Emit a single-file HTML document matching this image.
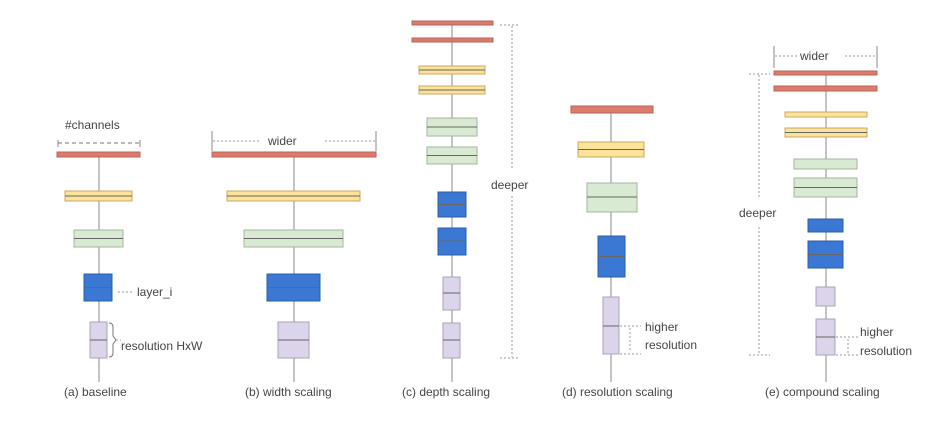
<!DOCTYPE html>
<html><head><meta charset="utf-8"><style>
html,body{margin:0;padding:0;background:#fff;}
svg{display:block;font-family:"Liberation Sans",sans-serif;}
text{fill:#444;font-size:12px;}
</style></head><body>
<svg width="951" height="444" viewBox="0 0 951 444" xmlns="http://www.w3.org/2000/svg">
<defs>
<marker id="ar" markerWidth="5" markerHeight="5" refX="2.5" refY="2.5" orient="auto"><path d="M0,0 L5,2.5 L0,5 z" fill="#777"/></marker>
<style>
.ax{stroke:#888;stroke-width:1;}
.r{fill:#dc7b6c;stroke:#b8655a;stroke-width:1;}
.y{fill:#fde39a;stroke:#c9aa62;stroke-width:1;}
.g{fill:#d9ead3;stroke:#a3b59e;stroke-width:1;}
.b{fill:#3a78d4;stroke:#2b5ea8;stroke-width:1;}
.p{fill:#dcd4ea;stroke:#a9a3b5;stroke-width:1;}
.m{stroke:#666;stroke-width:1;}
.d{stroke:#999;stroke-width:1;stroke-dasharray:2,2;fill:none;}
.dd{stroke:#777;stroke-width:1;stroke-dasharray:4,3;fill:none;}
</style>
</defs>

<!-- (a) baseline -->
<line class="ax" x1="99" y1="382" x2="99" y2="157"/>
<text x="65" y="129">#channels</text>
<line class="dd" x1="58" y1="143" x2="140" y2="143"/>
<line class="ax" x1="58" y1="140" x2="58" y2="147"/><line class="ax" x1="140" y1="140" x2="140" y2="147"/>
<rect class="r" x="57" y="152" width="83" height="5"/>
<rect class="y" x="65" y="191" width="67" height="10"/><line class="m" x1="65" y1="196" x2="132" y2="196"/>
<rect class="g" x="74" y="230" width="49" height="17"/><line class="m" x1="74" y1="238.5" x2="123" y2="238.5"/>
<rect class="b" x="84" y="274" width="28" height="27"/><line class="m" x1="84" y1="287.5" x2="112" y2="287.5"/>
<rect class="p" x="90" y="322" width="17" height="36"/><line class="m" x1="90" y1="340" x2="107" y2="340"/>
<line class="d" x1="132" y1="292" x2="116" y2="292"/>
<text x="137" y="296">layer_i</text>
<path d="M109,323 q4,0 4,4 v9 l3,4 l-3,4 v9 q0,4 -4,4" fill="none" stroke="#777"/>
<line class="d" x1="116" y1="340" x2="121" y2="340"/>
<text x="121" y="350">resolution HxW</text>
<text x="64" y="396">(a) baseline</text>

<!-- (b) width -->
<line class="ax" x1="294" y1="382" x2="294" y2="157"/>
<line class="ax" x1="212" y1="131" x2="212" y2="151"/><line class="ax" x1="376" y1="131" x2="376" y2="151"/>
<line class="d" x1="213" y1="141" x2="260" y2="141"/><line class="d" x1="325" y1="141" x2="375" y2="141"/>
<text x="268" y="145">wider</text>
<rect class="r" x="212" y="152" width="164" height="5"/>
<rect class="y" x="227" y="191" width="133" height="10"/><line class="m" x1="227" y1="196" x2="360" y2="196"/>
<rect class="g" x="244" y="230" width="99" height="17"/><line class="m" x1="244" y1="238.5" x2="343" y2="238.5"/>
<rect class="b" x="267" y="274" width="53" height="27"/><line class="m" x1="267" y1="287.5" x2="320" y2="287.5"/>
<rect class="p" x="278" y="322" width="31" height="36"/><line class="m" x1="278" y1="340" x2="309" y2="340"/>
<text x="245" y="396">(b) width scaling</text>

<!-- (c) depth -->
<line class="ax" x1="452" y1="382" x2="452" y2="25"/>
<rect class="r" x="412" y="21" width="81" height="4"/>
<rect class="r" x="412" y="38" width="81" height="4"/>
<rect class="y" x="419" y="66" width="66" height="8"/><line class="m" x1="419" y1="70" x2="485" y2="70"/>
<rect class="y" x="419" y="86" width="66" height="8"/><line class="m" x1="419" y1="90" x2="485" y2="90"/>
<rect class="g" x="427" y="118" width="50" height="18"/><line class="m" x1="427" y1="127" x2="477" y2="127"/>
<rect class="g" x="427" y="147" width="50" height="17"/><line class="m" x1="427" y1="155.5" x2="477" y2="155.5"/>
<rect class="b" x="438" y="192" width="28" height="25"/><line class="m" x1="438" y1="204.5" x2="466" y2="204.5"/>
<rect class="b" x="438" y="228" width="28" height="27"/><line class="m" x1="438" y1="241" x2="466" y2="241"/>
<rect class="p" x="443" y="277" width="17" height="33"/><line class="m" x1="443" y1="293" x2="460" y2="293"/>
<rect class="p" x="443" y="323" width="17" height="35"/><line class="m" x1="443" y1="340" x2="460" y2="340"/>
<line class="d" x1="500" y1="25" x2="520" y2="25"/><line class="d" x1="500" y1="358" x2="520" y2="358"/>
<line class="d" x1="512" y1="26" x2="512" y2="170"/><line class="d" x1="512" y1="196" x2="512" y2="357"/>
<text x="491" y="189">deeper</text>
<text x="402" y="396">(c) depth scaling</text>

<!-- (d) resolution -->
<line class="ax" x1="611" y1="382" x2="611" y2="113"/>
<rect class="r" x="571" y="106" width="82" height="7"/>
<rect class="y" x="578" y="142" width="66" height="15"/><line class="m" x1="578" y1="149.5" x2="644" y2="149.5"/>
<rect class="g" x="587" y="183" width="50" height="29"/><line class="m" x1="587" y1="197" x2="637" y2="197"/>
<rect class="b" x="598" y="236" width="27" height="41"/><line class="m" x1="598" y1="256.5" x2="625" y2="256.5"/>
<rect class="p" x="603" y="297" width="16" height="57"/><line class="m" x1="603" y1="326" x2="619" y2="326"/>
<line class="d" x1="620" y1="326" x2="641" y2="326"/><line class="d" x1="620" y1="354" x2="641" y2="354"/>
<line class="d" x1="630" y1="328" x2="630" y2="352"/>
<text x="645" y="331">higher</text>
<text x="645" y="349">resolution</text>
<text x="562" y="396">(d) resolution scaling</text>

<!-- (e) compound -->
<line class="ax" x1="826" y1="382" x2="826" y2="75"/>
<line class="ax" x1="774" y1="46" x2="774" y2="68"/><line class="ax" x1="877" y1="46" x2="877" y2="68"/>
<line class="d" x1="775" y1="56" x2="797" y2="56"/><line class="d" x1="845" y1="56" x2="876" y2="56"/>
<text x="800" y="60">wider</text>
<rect class="r" x="774" y="71" width="103" height="4"/>
<rect class="r" x="774" y="86" width="103" height="5"/>
<rect class="y" x="785" y="112" width="82" height="5"/>
<rect class="y" x="785" y="128" width="82" height="9"/><line class="m" x1="785" y1="132.5" x2="867" y2="132.5"/>
<rect class="g" x="794" y="159" width="63" height="10"/>
<rect class="g" x="794" y="178" width="63" height="19"/><line class="m" x1="794" y1="187.5" x2="857" y2="187.5"/>
<rect class="b" x="808" y="219" width="35" height="13"/>
<rect class="b" x="808" y="241" width="35" height="27"/><line class="m" x1="808" y1="254.5" x2="843" y2="254.5"/>
<rect class="p" x="816" y="287" width="19" height="19"/>
<rect class="p" x="816" y="319" width="19" height="36"/><line class="m" x1="816" y1="337" x2="835" y2="337"/>
<line class="d" x1="749" y1="74" x2="770" y2="74"/><line class="d" x1="749" y1="355" x2="770" y2="355"/>
<line class="d" x1="759" y1="75" x2="759" y2="197"/><line class="d" x1="759" y1="227" x2="759" y2="354"/>
<text x="739" y="217">deeper</text>
<line class="d" x1="836" y1="337" x2="858" y2="337"/><line class="d" x1="836" y1="355" x2="858" y2="355"/>
<line class="d" x1="848" y1="339" x2="848" y2="353"/>
<text x="860" y="336">higher</text>
<text x="860" y="355">resolution</text>
<text x="765" y="396">(e) compound scaling</text>
</svg>
</body></html>
